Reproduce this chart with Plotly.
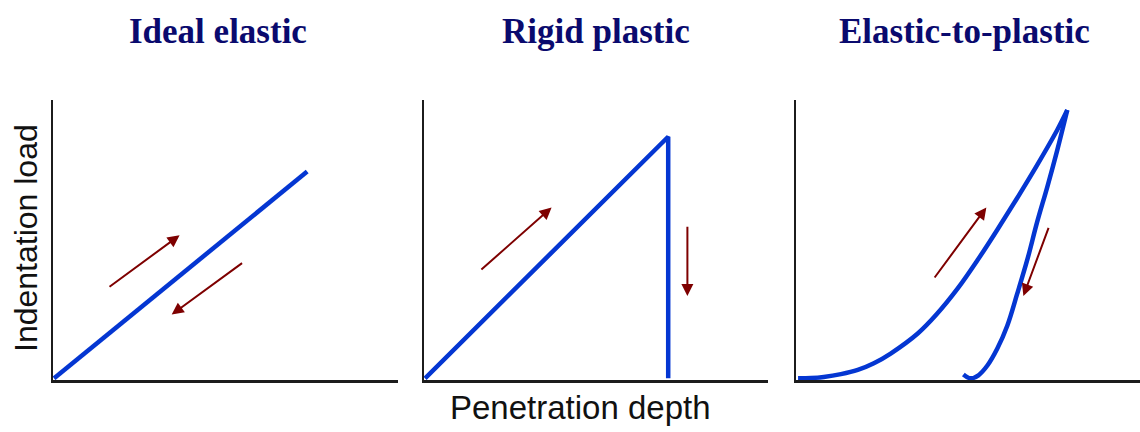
import plotly.graph_objects as go

W, H = 1140, 432

# ---- data (depth units, load units) ----
titles = ["Ideal elastic", "Rigid plastic", "Elastic-to-plastic"]

# Panel 1: ideal elastic (load & unload on same line)
elastic_depth = [0.0, 7.36]
elastic_load = [0.0, 7.43]
elastic_arrow_up = [(1.57, 3.25), (3.65, 5.14)]      # tail, head
elastic_arrow_down = [(5.51, 4.18), (3.42, 2.29)]

# Panel 2: rigid plastic
rigid_depth = [0.0, 7.09, 7.09]
rigid_load = [0.0, 8.68, 0.0]
rigid_arrow_up = [(1.60, 3.86), (3.69, 6.14)]
rigid_arrow_down = [(7.65, 5.50), (7.65, 2.96)]

# Panel 3: elastic-to-plastic
load_depth = [0.03, 0.41, 0.78, 1.28, 1.77, 2.24, 2.73, 3.52, 4.07, 4.68, 5.26, 5.84, 6.42, 7.00, 7.59, 7.88]
load_load = [0.00, 0.01, 0.05, 0.15, 0.30, 0.54, 0.89, 1.61, 2.30, 3.22, 4.24, 5.34, 6.48, 7.66, 8.93, 9.64]
unload_depth = [7.88, 7.59, 7.30, 7.00, 6.72, 6.42, 6.13, 5.84, 5.55, 5.29, 5.06, 4.85]
unload_load = [9.64, 8.21, 6.89, 5.61, 4.29, 3.04, 1.89, 1.07, 0.46, 0.11, 0.00, 0.14]
ep_arrow_up = [(3.98, 3.57), (5.52, 6.14)]
ep_arrow_down = [(7.35, 5.46), (6.60, 2.96)]

xlabel = "Penetration depth"
ylabel = "Indentation load"

# ---- layout geometry (pixels) ----
panel_x = [(53, 398), (424, 768), (796, 1140)]
y_top, y_bot = 100, 380
title_x = [218, 596, 964]

BLUE = "#0436D2"
RED = "#7E0000"
NAVY = "#0A0A6E"

fig = go.Figure()

series = [
    [(elastic_depth, elastic_load, "linear")],
    [(rigid_depth, rigid_load, "linear")],
    [(load_depth, load_load, "spline"), (unload_depth, unload_load, "spline")],
]
arrows = [
    [elastic_arrow_up, elastic_arrow_down],
    [rigid_arrow_up, rigid_arrow_down],
    [ep_arrow_up, ep_arrow_down],
]

annotations = []
for i in range(3):
    xa = "x" if i == 0 else f"x{i+1}"
    ya = "y" if i == 0 else f"y{i+1}"
    for xs, ys, shp in series[i]:
        fig.add_trace(go.Scatter(x=xs, y=ys, mode="lines", xaxis=xa, yaxis=ya,
                                 line=dict(color=BLUE, width=4.5, shape=shp, smoothing=1.0),
                                 showlegend=False, hoverinfo="skip"))
    for (tail, head) in arrows[i]:
        annotations.append(dict(x=head[0], y=head[1], ax=tail[0], ay=tail[1],
                                xref=xa, yref=ya, axref=xa, ayref=ya,
                                showarrow=True, arrowhead=2, arrowsize=1.2,
                                arrowwidth=2, arrowcolor=RED, text=""))
    annotations.append(dict(x=title_x[i] / W, y=1 - 31 / H, xref="paper", yref="paper",
                            text=f"<b>{titles[i]}</b>", showarrow=False,
                            xanchor="center", yanchor="middle",
                            font=dict(family="Liberation Serif", size=35, color=NAVY)))

annotations.append(dict(x=580 / W, y=1 - 407 / H, xref="paper", yref="paper",
                        text=xlabel, showarrow=False, xanchor="center", yanchor="middle",
                        font=dict(family="Liberation Sans", size=33, color="#111111")))
annotations.append(dict(x=26 / W, y=1 - 238 / H, xref="paper", yref="paper",
                        text=ylabel, showarrow=False, xanchor="center", yanchor="middle",
                        textangle=-90,
                        font=dict(family="Liberation Sans", size=32, color="#111111")))

axis_common = dict(showgrid=False, zeroline=False, showticklabels=False, ticks="",
                   showline=True, linecolor="#1c1c1c", linewidth=2.5, mirror=False,
                   fixedrange=True)

layout = dict(width=W, height=H, margin=dict(l=0, r=0, t=0, b=0),
              paper_bgcolor="white", plot_bgcolor="white",
              annotations=annotations, showlegend=False)
for i in range(3):
    sx = "" if i == 0 else str(i + 1)
    layout[f"xaxis{sx}"] = dict(domain=[panel_x[i][0] / W, panel_x[i][1] / W],
                                range=[-0.03, 10], anchor=f"y{sx}", **axis_common)
    layout[f"yaxis{sx}"] = dict(domain=[1 - y_bot / H, 1 - y_top / H],
                                range=[-0.06, 10], anchor=f"x{sx}", **axis_common)

fig.update_layout(**layout)
fig.write_html("out.html", config={"displayModeBar": False, "staticPlot": True},
               post_script="document.body.style.margin='0px';document.body.style.padding='0px';")
